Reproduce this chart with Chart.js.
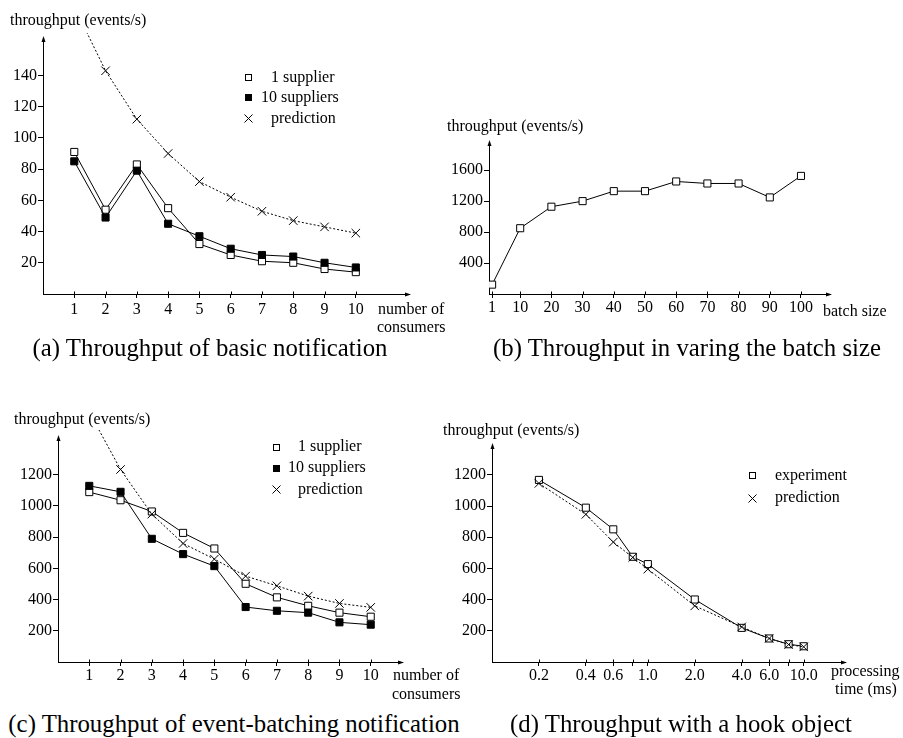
<!DOCTYPE html>
<html>
<head>
<meta charset="utf-8">
<script src="https://cdn.jsdelivr.net/npm/chart.js@4"></script>
<style>
  body { margin: 0; width: 903px; height: 738px; position: relative; overflow: hidden; background: #fff; color: #000; font-family: "Liberation Serif", serif; }
  canvas { position: absolute; }
  .t { position: absolute; font-size: 16px; line-height: 16px; white-space: nowrap; }
  .cap { position: absolute; font-size: 24.8px; line-height: 24.8px; white-space: nowrap; transform: translateX(-50%); }
  .sq { position: absolute; width: 7px; height: 7px; box-sizing: border-box; border: 1px solid #000; background: #fff; }
  .sq.fill { background: #000; }
  .cross { position: absolute; width: 9px; height: 9px; }
</style>
</head>
<body>

<canvas id="chartA" width="450" height="330" style="left:0;top:0"></canvas>
<canvas id="chartB" width="483" height="240" style="left:420px;top:100px"></canvas>
<canvas id="chartC" width="450" height="300" style="left:0;top:400px"></canvas>
<canvas id="chartD" width="483" height="300" style="left:420px;top:400px"></canvas>

<!-- (a) -->
<div class="t" style="left:10px;top:12px">throughput (events/s)</div>
<div class="sq" style="left:245px;top:74px"></div>
<div class="t" style="left:271px;top:69px">1 supplier</div>
<div class="sq fill" style="left:245px;top:94px"></div>
<div class="t" style="left:261px;top:89px">10 suppliers</div>
<svg class="cross" style="left:244px;top:114px" viewBox="0 0 9 9"><path d="M0.5 0.5L8.5 8.5M8.5 0.5L0.5 8.5" stroke="#000" stroke-width="1"/></svg>
<div class="t" style="left:271px;top:110px">prediction</div>
<div class="t" style="left:378px;top:301px">number of</div>
<div class="t" style="left:377px;top:319px">consumers</div>
<div class="cap" style="left:210px;top:336px">(a) Throughput of basic notification</div>

<!-- (b) -->
<div class="t" style="left:447px;top:118px">throughput (events/s)</div>
<div class="t" style="left:823px;top:303px">batch size</div>
<div class="cap" style="left:687px;top:336px">(b) Throughput in varing the batch size</div>

<!-- (c) -->
<div class="t" style="left:14px;top:411px">throughput (events/s)</div>
<div class="sq" style="left:273px;top:444px"></div>
<div class="t" style="left:298px;top:438px">1 supplier</div>
<div class="sq fill" style="left:273px;top:465px"></div>
<div class="t" style="left:288px;top:459px">10 suppliers</div>
<svg class="cross" style="left:272px;top:485px" viewBox="0 0 9 9"><path d="M0.5 0.5L8.5 8.5M8.5 0.5L0.5 8.5" stroke="#000" stroke-width="1"/></svg>
<div class="t" style="left:298px;top:481px">prediction</div>
<div class="t" style="left:393px;top:667px">number of</div>
<div class="t" style="left:392px;top:686px">consumers</div>
<div class="cap" style="left:234px;top:712px">(c) Throughput of event-batching notification</div>

<!-- (d) -->
<div class="t" style="left:443px;top:422px">throughput (events/s)</div>
<div class="sq" style="left:749px;top:472px"></div>
<div class="t" style="left:775px;top:467px">experiment</div>
<svg class="cross" style="left:748px;top:494px" viewBox="0 0 9 9"><path d="M0.5 0.5L8.5 8.5M8.5 0.5L0.5 8.5" stroke="#000" stroke-width="1"/></svg>
<div class="t" style="left:775px;top:489px">prediction</div>
<div class="t" style="left:831px;top:663px">processing</div>
<div class="t" style="left:835px;top:681px">time (ms)</div>
<div class="cap" style="left:681px;top:712px">(d) Throughput with a hook object</div>

<script>
// (a) basic notification
const consumers = [1, 2, 3, 4, 5, 6, 7, 8, 9, 10];
const basicOneSupplier = [91, 54, 83, 55, 32, 25, 21, 20, 16, 14];
const basicTenSuppliers = [85, 49, 79, 45, 37, 29, 25, 24, 20, 17];
const basicPrediction = [184, 143, 112, 90, 72, 62, 53, 47, 43, 39]; // first one has no mark, the curve just runs off the top
const basicYTicks = [20, 40, 60, 80, 100, 120, 140];

// (b) batch size
const batchSizes = [1, 10, 20, 30, 40, 50, 60, 70, 80, 90, 100];
const batchThroughput = [121, 850, 1128, 1200, 1329, 1329, 1454, 1428, 1428, 1248, 1526];
const batchYTicks = [400, 800, 1200, 1600];

// (c) event-batching notification
const batchingOneSupplier = [1088, 1036, 964, 827, 727, 501, 414, 360, 316, 290];
const batchingTenSuppliers = [1128, 1090, 789, 691, 614, 352, 328, 316, 254, 239];
const batchingPrediction = [1600, 1233, 947, 759, 659, 550, 488, 422, 375, 350];
const batchingYTicks = [200, 400, 600, 800, 1000, 1200];

// (d) hook object
const procTimes = [0.2, 0.4, 0.6, 0.8, 1.0, 2.0, 4.0, 6.0, 8.0, 10.0];
const hookExperiment = [1168, 990, 851, 675, 628, 401, 219, 151, 114, 101];
const hookPrediction = [1146, 947, 769, 671, 596, 360, 225, 151, 112, 97];
const procTickLabels = ['0.2', '0.4', '0.6', '', '1.0', '2.0', '4.0', '6.0', '', '10.0'];
const hookYTicks = [200, 400, 600, 800, 1000, 1200];

Chart.defaults.font.family = '"Liberation Serif", serif';
Chart.defaults.font.size = 16;
Chart.defaults.color = '#000';

const toPoints = (xs, ys) => xs.map((x, i) => ({ x: x, y: ys[i] }));

// arrow heads, plus the little bit of each x tick above the axis
const axisArrows = {
  id: 'axisArrows',
  afterDraw(chart) {
    const { ctx, chartArea: a } = chart;
    const xs = chart.scales.x;
    const left = Math.round(a.left) + 0.5;
    const bottom = Math.round(a.bottom) + 0.5;
    ctx.save();
    ctx.fillStyle = '#000';
    ctx.strokeStyle = '#000';
    ctx.lineWidth = 1;
    ctx.beginPath();
    ctx.moveTo(left, a.top - 2);
    ctx.lineTo(left - 2, a.top + 4);
    ctx.lineTo(left + 2, a.top + 4);
    ctx.closePath();
    ctx.fill();
    ctx.beginPath();
    ctx.moveTo(a.right + 2, bottom);
    ctx.lineTo(a.right - 4, bottom - 2);
    ctx.lineTo(a.right - 4, bottom + 2);
    ctx.closePath();
    ctx.fill();
    xs.ticks.forEach(t => {
      const px = Math.round(xs.getPixelForValue(t.value)) + 0.5;
      ctx.beginPath();
      ctx.moveTo(px, bottom);
      ctx.lineTo(px, bottom - 3);
      ctx.stroke();
    });
    ctx.restore();
  }
};

function openSquares(data) {
  return { data: data, borderColor: '#000', borderWidth: 1, pointStyle: 'rect', pointRadius: 5,
    pointBackgroundColor: '#fff', pointBorderColor: '#000', pointBorderWidth: 1, tension: 0, fill: false };
}
function filledSquares(data) {
  return { data: data, borderColor: '#000', borderWidth: 1, pointStyle: 'rect', pointRadius: 5,
    pointBackgroundColor: '#000', pointBorderColor: '#000', pointBorderWidth: 1, tension: 0, fill: false };
}
function crosses(data, radii, clipTop) {
  return { data: data, borderColor: '#000', borderWidth: 1, borderDash: [2, 2], pointStyle: 'crossRot',
    pointRadius: radii, pointBorderColor: '#000', pointBorderWidth: 1, tension: 0, fill: false,
    clip: { left: 0, top: clipTop, right: 0, bottom: 0 } };
}

function axes(opt) {
  const axisBase = {
    border: { display: true, color: '#000', width: 1 },
    grid: { display: true, drawOnChartArea: false, drawTicks: true, color: '#000', lineWidth: 1 }
  };
  return {
    x: Object.assign({}, axisBase, {
      type: opt.xType || 'linear', min: opt.xMin, max: opt.xMax,
      grid: Object.assign({}, axisBase.grid, { tickLength: 4 }),
      ticks: { padding: opt.xPad, maxRotation: 0, autoSkip: false, callback: opt.xLabel || (v => String(v)) },
      afterBuildTicks: s => { s.ticks = opt.xTicks.map(v => ({ value: v })); },
      afterFit: s => { s.height = opt.xHeight; }
    }),
    y: Object.assign({}, axisBase, {
      type: 'linear', min: 0, max: opt.yMax,
      grid: Object.assign({}, axisBase.grid, { tickLength: 5 }),
      ticks: { padding: 1, callback: v => String(v) },
      afterBuildTicks: s => { s.ticks = opt.yTicks.map(v => ({ value: v })); },
      afterFit: s => { s.width = opt.yWidth; }
    })
  };
}

function makeChart(id, datasets, padding, scales) {
  return new Chart(document.getElementById(id), {
    type: 'line',
    data: { datasets: datasets },
    options: {
      responsive: false,
      animation: false,
      events: [],
      layout: { padding: padding },
      plugins: { legend: { display: false }, tooltip: { enabled: false } },
      scales: scales
    },
    plugins: [axisArrows]
  });
}

// (a)
makeChart('chartA', [
  crosses(toPoints(consumers, basicPrediction), consumers.map((c, i) => i === 0 ? 0 : 6), 5),
  filledSquares(toPoints(consumers, basicTenSuppliers)),
  openSquares(toPoints(consumers, basicOneSupplier))
], { left: 0, top: 38, right: 41, bottom: 0 },
  axes({ xMin: 0, xMax: 11.7, xTicks: consumers, xPad: 2, xHeight: 36, yMax: 164, yTicks: basicYTicks, yWidth: 43 }));

// (b)
makeChart('chartB', [
  openSquares(toPoints(batchSizes, batchThroughput))
], { left: 0, top: 42, right: 73, bottom: 0 },
  axes({ xMin: 0, xMax: 109.3, xTicks: batchSizes, xPad: 0, xHeight: 46, yMax: 1964, yTicks: batchYTicks, yWidth: 69 }));

// (c)
makeChart('chartC', [
  crosses(toPoints(consumers, batchingPrediction), consumers.map((c, i) => i === 0 ? 0 : 6), 7),
  filledSquares(toPoints(consumers, batchingTenSuppliers)),
  openSquares(toPoints(consumers, batchingOneSupplier))
], { left: 0, top: 37, right: 48, bottom: 0 },
  axes({ xMin: 0, xMax: 11, xTicks: consumers, xPad: 0, xHeight: 38, yMax: 1441, yTicks: batchingYTicks, yWidth: 58 }));

// (d)
makeChart('chartD', [
  crosses(toPoints(procTimes, hookPrediction), 6, 0),
  openSquares(toPoints(procTimes, hookExperiment))
], { left: 0, top: 45, right: 58, bottom: 0 },
  axes({ xType: 'logarithmic', xMin: 0.1, xMax: 18.4, xTicks: procTimes, xPad: 0, xHeight: 38,
    xLabel: (v, i) => procTickLabels[i], yMax: 1392, yTicks: hookYTicks, yWidth: 72 }));
</script>
</body>
</html>
